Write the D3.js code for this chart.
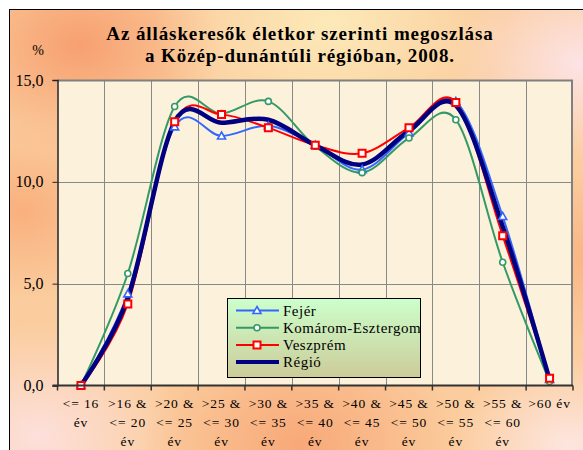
<!DOCTYPE html>
<html>
<head>
<meta charset="utf-8">
<script src="https://cdn.jsdelivr.net/npm/d3@7"></script>
<style>
  body { margin: 0; background: #fff; }
  svg text { font-family: "Liberation Serif", "Times New Roman", serif; fill: #000; }
</style>
</head>
<body>
<div id="chart"></div>
<script>
// Age groups (x categories), each split into label lines
const categories = [
  ["<= 16", "év"],
  [">16 &", "<= 20", "év"],
  [">20 &", "<= 25", "év"],
  [">25 &", "<= 30", "év"],
  [">30 &", "<= 35", "év"],
  [">35 &", "<= 40", "év"],
  [">40 &", "<= 45", "év"],
  [">45 &", "<= 50", "év"],
  [">50 &", "<= 55", "év"],
  [">55 &", "<= 60", "év"],
  [">60 év"]
];

// Share of job seekers per age group, %
const fejer = [0, 4.5, 12.7, 12.25, 12.75, 11.8, 10.6, 12.4, 13.95, 8.3, 0.3];
const komarom = [0, 5.5, 13.7, 13.35, 13.95, 11.75, 10.45, 12.15, 13.05, 6.05, 0.2];
const veszprem = [0, 4.0, 12.95, 13.3, 12.65, 11.8, 11.4, 12.65, 13.9, 7.35, 0.35];
const regio = [0, 4.3, 12.95, 12.9, 13.05, 11.8, 10.85, 12.5, 13.75, 7.8, 0.3];

const seriesNames = ["Fejér", "Komárom-Esztergom", "Veszprém", "Régió"];
const yTicks = [0, 5, 10, 15];

const width = 583;
const height = 450;
const plot = { left: 57.5, right: 573, top: 80, bottom: 385.5 };

buildChart();

// ---------------- Function definitions ---------------- //

function buildChart() {
  const svg = d3.select("#chart").append("svg")
    .attr("width", width)
    .attr("height", height);

  drawBackground(svg);

  const x = d3.scaleBand()
    .domain(d3.range(categories.length))
    .range([plot.left, plot.right]);

  const y = d3.scaleLinear()
    .domain([0, 15])
    .range([plot.bottom, plot.top]);

  drawGrid(svg, x, y);

  const series = [
    { name: seriesNames[0], values: fejer, color: "#3366ff", width: 2, marker: "triangle" },
    { name: seriesNames[1], values: komarom, color: "#339966", width: 2, marker: "circle" },
    { name: seriesNames[2], values: veszprem, color: "#ff0000", width: 2, marker: "square" },
    { name: seriesNames[3], values: regio, color: "#000080", width: 4.5, marker: null }
  ];

  const line = d3.line()
    .x((d, i) => x(i) + x.bandwidth() / 2)
    .y(d => y(d))
    .curve(d3.curveCardinal.tension(0));

  // Lines first, markers on top
  svg.append("g").selectAll("path")
    .data(series)
    .enter()
    .append("path")
    .attr("d", d => line(d.values))
    .attr("fill", "none")
    .attr("stroke", d => d.color)
    .attr("stroke-width", d => d.width)
    .attr("stroke-linejoin", "round");

  series.filter(s => s.marker).forEach(s => {
    svg.append("g").selectAll("path")
      .data(s.values)
      .enter()
      .append("path")
      .attr("transform", (d, i) => "translate(" + (x(i) + x.bandwidth() / 2) + "," + y(d) + ")")
      .attr("d", markerPath(s.marker))
      .attr("fill", "#fff")
      .attr("stroke", s.color)
      .attr("stroke-width", s.marker === "square" ? 2 : 1.6);
  });

  drawAxes(svg, x, y);
  drawLegend(svg, series);

  // Title
  const title = svg.append("text")
    .attr("x", 300)
    .attr("text-anchor", "middle")
    .style("font-size", "19px")
    .style("font-weight", "bold")
    .style("letter-spacing", "0.9px");
  title.append("tspan").attr("x", 300).attr("y", 40)
    .text("Az álláskeresők életkor szerinti megoszlása");
  title.append("tspan").attr("x", 300).attr("y", 62)
    .text("a Közép-dunántúli régióban, 2008.");

  svg.append("text")
    .attr("x", 38)
    .attr("y", 55)
    .attr("text-anchor", "middle")
    .style("font-size", "14px")
    .text("%");
}

/*
 * Warm sunset-like gradient behind the whole chart, framed in black.
 */
function drawBackground(svg) {
  const defs = svg.append("defs");

  const blobs = [
    { id: "b1", cx: 0.12, cy: 0.08, r: 0.25, color: "#f7a070" },
    { id: "b2", cx: 0.55, cy: 0.03, r: 0.3, color: "#fde9b8" },
    { id: "b3", cx: 0.98, cy: 0.12, r: 0.22, color: "#fde3e6" },
    { id: "b4", cx: 0.05, cy: 0.95, r: 0.25, color: "#fde0dc" },
    { id: "b5", cx: 0.5, cy: 0.97, r: 0.28, color: "#f8a878" },
    { id: "b6", cx: 0.02, cy: 0.45, r: 0.2, color: "#f9b07e" },
    { id: "b7", cx: 0.96, cy: 0.97, r: 0.2, color: "#fde6e0" },
    { id: "b8", cx: 1.0, cy: 0.55, r: 0.2, color: "#f9b583" }
  ];

  blobs.forEach(b => {
    const g = defs.append("radialGradient")
      .attr("id", b.id)
      .attr("cx", b.cx).attr("cy", b.cy).attr("r", b.r);
    g.append("stop").attr("offset", 0).attr("stop-color", b.color).attr("stop-opacity", 1);
    g.append("stop").attr("offset", 1).attr("stop-color", b.color).attr("stop-opacity", 0);
  });

  svg.append("rect")
    .attr("x", 9).attr("y", 9)
    .attr("width", width).attr("height", height)
    .attr("fill", "#fbcd9e");

  blobs.forEach(b => {
    svg.append("rect")
      .attr("x", 9).attr("y", 9)
      .attr("width", width).attr("height", height)
      .attr("fill", "url(#" + b.id + ")");
  });

  svg.append("rect")
    .attr("x", 9.5).attr("y", 9.5)
    .attr("width", width).attr("height", height)
    .attr("fill", "none")
    .attr("stroke", "#000")
    .attr("stroke-width", 1);
}

/*
 * Plot area fill and grid lines.
 */
function drawGrid(svg, x, y) {
  svg.append("rect")
    .attr("x", plot.left).attr("y", plot.top)
    .attr("width", plot.right - plot.left)
    .attr("height", plot.bottom - plot.top)
    .attr("fill", "#fcf1da");

  const grid = svg.append("g")
    .attr("stroke", "#888")
    .attr("stroke-width", 1);

  grid.selectAll("line.v")
    .data(d3.range(1, categories.length))
    .enter()
    .append("line")
    .attr("x1", d => Math.round(x(d)) + 0.5)
    .attr("x2", d => Math.round(x(d)) + 0.5)
    .attr("y1", plot.top)
    .attr("y2", plot.bottom);

  grid.selectAll("line.h")
    .data(yTicks.slice(1, -1))
    .enter()
    .append("line")
    .attr("x1", plot.left)
    .attr("x2", plot.right)
    .attr("y1", d => Math.round(y(d)) + 0.5)
    .attr("y2", d => Math.round(y(d)) + 0.5);

  // Plot border (top and right)
  svg.append("path")
    .attr("d", "M" + plot.left + "," + (plot.top + 0.5) + "H" + (plot.right - 1) + "V" + plot.bottom)
    .attr("fill", "none")
    .attr("stroke", "#808080")
    .attr("stroke-width", 2);
}

/*
 * Axes with Excel-style tick labels.
 */
function drawAxes(svg, x, y) {
  const yAxis = d3.axisLeft(y)
    .tickValues(yTicks)
    .tickSize(5)
    .tickPadding(9)
    .tickFormat(d => d3.format(".1f")(d).replace(".", ","));

  const gy = svg.append("g")
    .attr("transform", "translate(" + plot.left + ",0)")
    .call(yAxis);
  gy.select(".domain").attr("stroke", "#222").attr("stroke-width", 1.5);
  gy.selectAll(".tick line").attr("stroke", "#222");
  gy.selectAll("text")
    .style("font-size", "16px")
    .attr("fill", "#000");

  const gx = svg.append("g");
  gx.append("line")
    .attr("x1", plot.left - 5)
    .attr("x2", plot.right)
    .attr("y1", plot.bottom)
    .attr("y2", plot.bottom)
    .attr("stroke", "#333")
    .attr("stroke-width", 2);

  gx.selectAll("line.tick")
    .data(d3.range(categories.length + 1))
    .enter()
    .append("line")
    .attr("x1", d => d < categories.length ? x(d) : plot.right)
    .attr("x2", d => d < categories.length ? x(d) : plot.right)
    .attr("y1", plot.bottom)
    .attr("y2", plot.bottom + 5)
    .attr("stroke", "#333")
    .attr("stroke-width", 1.5);

  const labels = gx.selectAll("text")
    .data(categories)
    .enter()
    .append("text")
    .attr("text-anchor", "middle")
    .style("font-size", "13.5px")
    .style("letter-spacing", "0.9px");

  labels.selectAll("tspan")
    .data((d, i) => d.map(t => ({ t: t, i: i })))
    .enter()
    .append("tspan")
    .attr("x", d => x(d.i) + x.bandwidth() / 2)
    .attr("y", (d, j) => 408 + j * 19)
    .text(d => d.t);
}

/*
 * Legend box with a green-to-olive gradient.
 */
function drawLegend(svg, series) {
  const defs = svg.select("defs");
  const grad = defs.append("linearGradient")
    .attr("id", "legendFill")
    .attr("x1", 0).attr("y1", 0).attr("x2", 0).attr("y2", 1);
  grad.append("stop").attr("offset", 0).attr("stop-color", "#ccffcc");
  grad.append("stop").attr("offset", 1).attr("stop-color", "#cccc99");

  const legend = svg.append("g")
    .attr("transform", "translate(227,298)");

  legend.append("rect")
    .attr("x", 0.5).attr("y", 0.5)
    .attr("width", 193).attr("height", 79)
    .attr("fill", "url(#legendFill)")
    .attr("stroke", "#000");

  const rows = legend.selectAll("g.row")
    .data(series)
    .enter()
    .append("g")
    .attr("transform", (d, i) => "translate(0," + (12.5 + i * 17.2) + ")");

  rows.append("line")
    .attr("x1", 9).attr("x2", 52)
    .attr("stroke", d => d.color)
    .attr("stroke-width", d => d.width === 2 ? 2 : 4);

  rows.filter(d => d.marker)
    .append("path")
    .attr("transform", "translate(30,0)")
    .attr("d", d => markerPath(d.marker))
    .attr("fill", "#fff")
    .attr("stroke", d => d.color)
    .attr("stroke-width", d => d.marker === "square" ? 2 : 1.6);

  rows.append("text")
    .attr("x", 56)
    .attr("y", 5)
    .style("font-size", "15px")
    .style("letter-spacing", "0.5px")
    .text(d => d.name);
}

/*
 * Path strings for the small marker shapes.
 */
function markerPath(kind) {
  switch (kind) {
    case "triangle":
      return "M0,-4L4,3H-4Z";
    case "circle":
      return d3.arc()({ innerRadius: 0, outerRadius: 3, startAngle: 0, endAngle: 2 * Math.PI });
    case "square":
    default:
      return "M-3.5,-3.5H3.5V3.5H-3.5Z";
  }
}
</script>
</body>
</html>
